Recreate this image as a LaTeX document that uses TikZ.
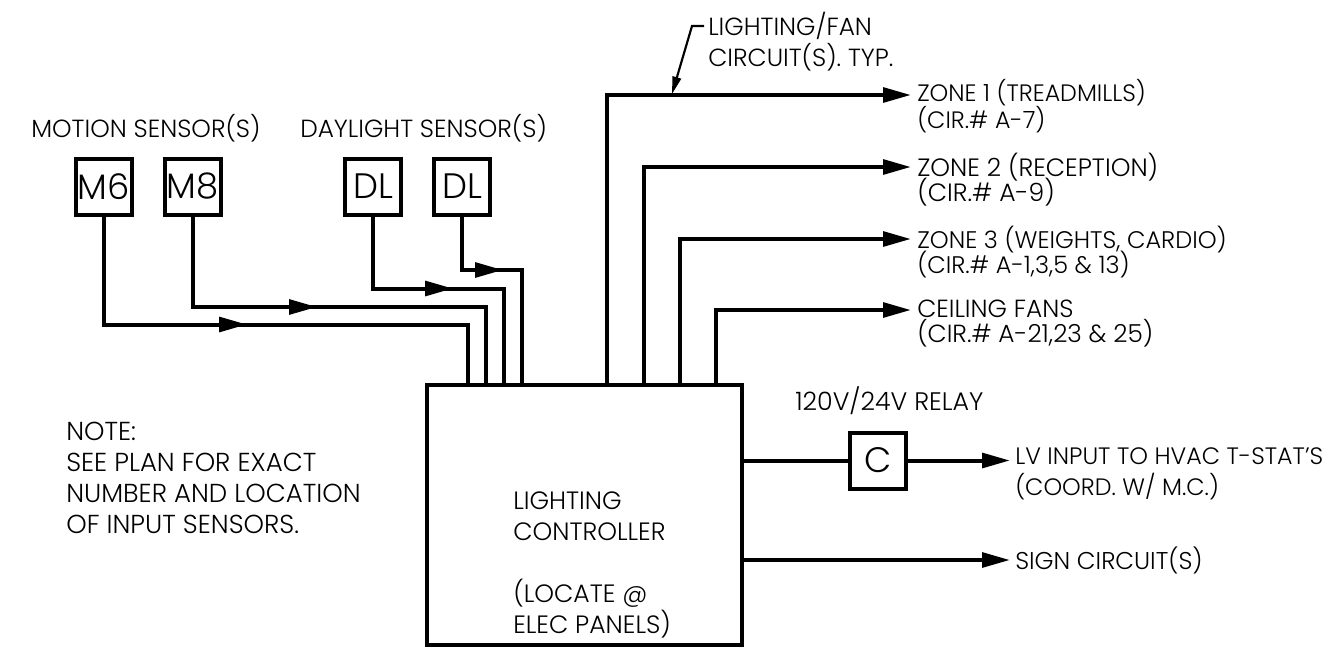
\documentclass[tikz,border=0pt]{standalone}
\usepackage{fontspec}
\setmainfont{Poppins}[UprightFont=* Light]
\usetikzlibrary{arrows.meta}
\setlength{\normallineskiplimit}{-30pt}
\setlength{\lineskiplimit}{-30pt}
\tikzset{
  x=0.75pt,y=-0.75pt,
  wire/.style={line width=3pt,line join=miter},
  tip/.style={-{Triangle[length=21pt,width=11pt]},line width=3pt},
  sensor/.style={draw,line width=3pt,minimum width=42pt,minimum height=42pt,inner sep=0pt,font=\fontsize{26.5}{26.5}\selectfont},
  lbl/.style={inner sep=0pt,anchor=west,align=left,font=\fontsize{#1}{18.6}\selectfont},
  lblw/.style={inner sep=0pt,anchor=west,align=left,font=\fontsize{#1}{23.25}\selectfont}
}
\begin{document}
\begin{tikzpicture}
\useasboundingbox (0,0) rectangle (1328,650);
\node[lbl=18.6] (lm) at (31,128) {MOTION SENSOR(S)};
\node[lbl=18.6] (ld) at (300,128) {DAYLIGHT SENSOR(S)};
\node[sensor] (m6) at (103.5,186.5) {M6};
\node[sensor] (m8) at (192.5,186.5) {M8};
\node[sensor] (d1) at (373,186.5) {DL};
\node[sensor] (d2) at (462,186.5) {DL};
\node[sensor] (c) at (878,460.5) {C};
\node[draw,line width=2.6pt,minimum width=236pt,minimum height=195pt,inner sep=0pt] (ctl) at (584.5,515) {};
\coordinate (a1) at (468,385); \coordinate (a2) at (485.5,385); \coordinate (a3) at (503.5,385); \coordinate (a4) at (521.5,385);
\coordinate (b1) at (607,385); \coordinate (b2) at (643.5,385); \coordinate (b3) at (680,385); \coordinate (b4) at (716,385);
\draw[wire] (m6.south) |- (468,324.5) -- (a1);
\draw[wire] (m8.south) |- (485.5,307) -- (a2);
\draw[wire] (d1.south) |- (503.5,288.5) -- (a3);
\draw[wire] (d2.south) |- (521.5,270) -- (a4);
\draw[tip] (200,324.5) -- (247,324.5);
\draw[tip] (270,307) -- (317,307);
\draw[tip] (400,288.5) -- (453,288.5);
\draw[tip] (470,270) -- (503,270);
\coordinate (z1) at (911,95); \coordinate (z2) at (911,167); \coordinate (z3) at (911,239); \coordinate (z4) at (911,310);
\draw[tip] (b1) |- (z1);
\draw[tip] (b2) |- (z2);
\draw[tip] (b3) |- (z3);
\draw[tip] (b4) |- (z4);
\coordinate (r) at (742,460.5); \coordinate (rt) at (1010,460.5);
\coordinate (s) at (742,560); \coordinate (st) at (1010,560);
\draw[wire] (r) -- (c.west);
\draw[tip] (c.east) -- (rt);
\draw[tip] (s) -- (st);
\node[lblw=18.6] (ll) at (708,41.5) {LIGHTING/FAN\\CIRCUIT(S). TYP.};
\coordinate (lk) at (692,26); \coordinate (lt) at (672,94);
\draw[line width=1.6pt,-{Triangle[length=13pt,width=6.5pt]}] (704,26) -- (lk) -- (lt);
\node[lbl=17.8] (z1l) at (917,106.5) {ZONE 1 (TREADMILLS)\\[1.5pt](CIR.\# A-7)};
\node[lbl=18.8] (z2l) at (917,180) {ZONE 2 (RECEPTION)\\(CIR.\# A-9)};
\node[lbl=18] (z3l) at (917,252) {ZONE 3 (WEIGHTS, CARDIO)\\(CIR.\# A-1,3,5 \& 13)};
\node[lbl=18.6] (z4l) at (917,323.5) {CEILING FANS\\(CIR.\# A-21,23 \& 25)};
\node[lbl=19] (rl) at (795,401) {120V/24V RELAY};
\node[lblw=17.8] (lv) at (1015,474) {LV INPUT TO HVAC T-STAT'S\\(COORD. W/ M.C.)};
\node[lbl=18.2] (sl) at (1015,560) {SIGN CIRCUIT(S)};
\node[lblw=19.5] (note) at (66,478) {NOTE:\\SEE PLAN FOR EXACT\\NUMBER AND LOCATION\\OF INPUT SENSORS.};
\node[lblw=18.8] (cl) at (513,564.5) {LIGHTING\\CONTROLLER\\\\(LOCATE @\\ELEC PANELS)};
\end{tikzpicture}
\end{document}
